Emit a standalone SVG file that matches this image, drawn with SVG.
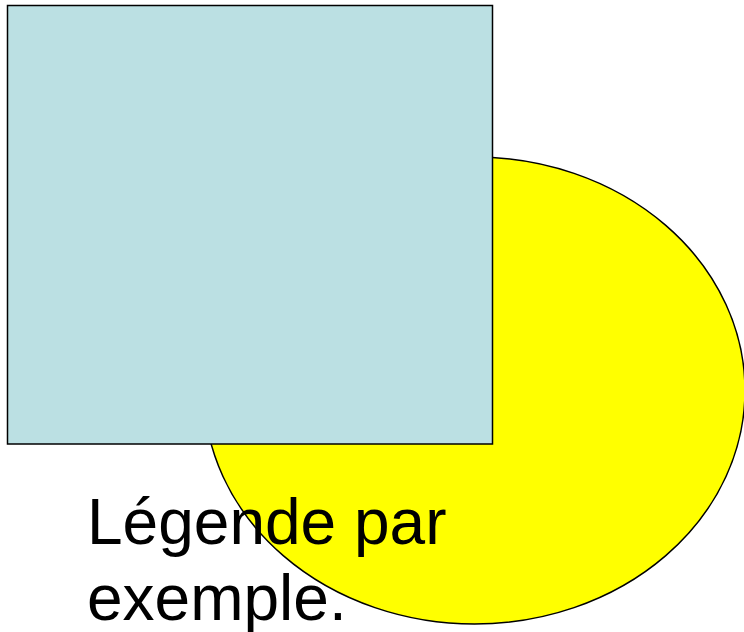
<svg xmlns="http://www.w3.org/2000/svg" width="744" height="632" viewBox="0 0 744 632">
<style>
.shape{stroke:#000;stroke-width:1.5}
.lbl{font-family:"Liberation Sans",Arial,sans-serif;font-size:64px;fill:#000}
</style>
<rect width="744" height="632" fill="#fff"/>
<g id="ellipse"><ellipse class="shape" cx="474.5" cy="390.5" rx="270.5" ry="233.5" fill="#ffff00"/></g>
<g id="rect"><rect class="shape" x="7.5" y="5.5" width="485" height="438.5" fill="#bbe0e3"/></g>
<g id="caption">
<text class="lbl" x="87" y="544">Légende par</text>
<text class="lbl" x="87" y="620">exemple.</text>
</g>
<g id="connectors"/>
</svg>
